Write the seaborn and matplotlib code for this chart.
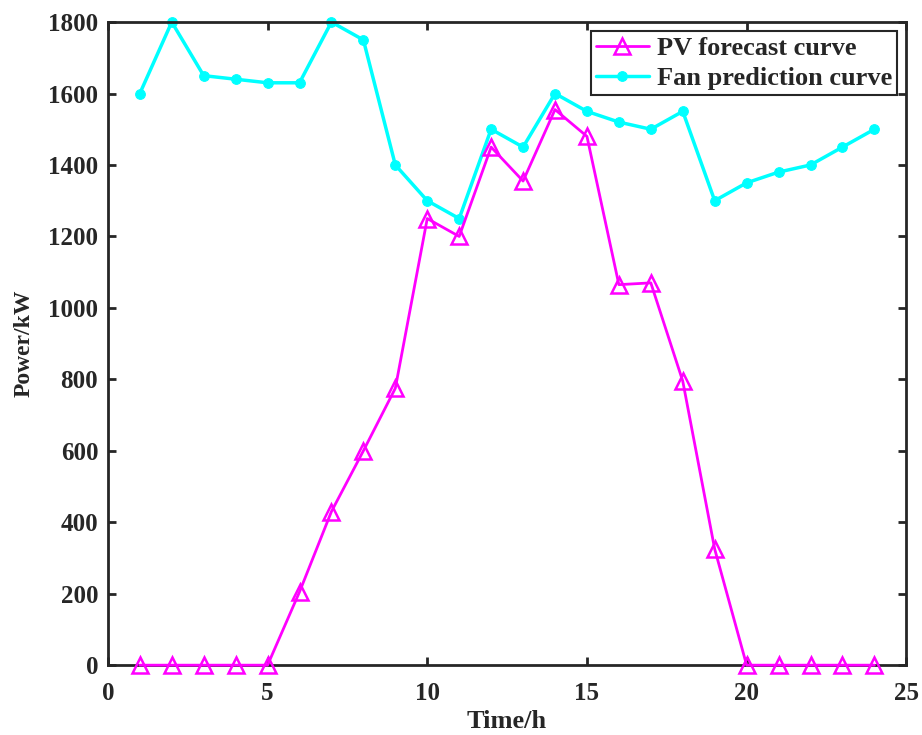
import matplotlib
matplotlib.use("Agg")
import matplotlib.pyplot as plt
import seaborn as sns
import pandas as pd

# hourly forecasts
hours = list(range(1, 25))
pv_forecast = [0, 0, 0, 0, 0, 205, 430, 600, 775, 1250, 1200, 1450,
               1355, 1555, 1480, 1065, 1070, 795, 325, 0, 0, 0, 0, 0]
fan_prediction = [1600, 1800, 1650, 1640, 1630, 1630, 1800, 1750, 1400, 1300, 1250, 1500,
                  1450, 1600, 1550, 1520, 1500, 1550, 1300, 1350, 1380, 1400, 1450, 1500]

sns.set_style("ticks")
plt.rcParams["font.family"] = ["Liberation Serif", "DejaVu Serif"]
plt.rcParams["font.weight"] = "bold"
plt.rcParams["xtick.direction"] = "in"
plt.rcParams["ytick.direction"] = "in"

df = pd.DataFrame({"hour": hours, "pv": pv_forecast, "fan": fan_prediction})

fig = plt.figure(figsize=(9.22, 7.35), dpi=100)
ax = fig.add_axes([0.117, 0.095, 0.866, 0.875])

sns.lineplot(data=df, x="hour", y="pv", ax=ax, color="#ff00ff", linewidth=2,
             marker="^", markersize=11, markerfacecolor="none",
             markeredgecolor="#ff00ff", markeredgewidth=1.8, label="PV forecast curve",
             clip_on=False, zorder=3)
sns.lineplot(data=df, x="hour", y="fan", ax=ax, color="#00ffff", linewidth=2.5,
             marker="o", markersize=7, markeredgecolor="#00ffff",
             label="Fan prediction curve", clip_on=False, zorder=2)

ax.set_xlim(0, 25)
ax.set_ylim(0, 1800)
ax.set_xticks([0, 5, 10, 15, 20, 25])
ax.set_yticks(range(0, 1801, 200))
ax.tick_params(axis="both", labelsize=18, width=2, length=6,
               top=True, right=True)
ax.tick_params(axis="x", pad=12)
ax.tick_params(axis="y", pad=7)
for lbl in ax.get_xticklabels() + ax.get_yticklabels():
    lbl.set_fontweight("bold")
for sp in ax.spines.values():
    sp.set_visible(True)
    sp.set_linewidth(2)
    sp.set_color("#262626")

ax.set_xlabel("Time/h", fontsize=19, fontweight="bold", labelpad=4)
ax.set_ylabel("Power/kW", fontsize=17, fontweight="bold", labelpad=10)

leg = ax.legend(loc="upper right", fontsize=19, frameon=True, fancybox=False,
                borderaxespad=0.35, handlelength=2.0, handletextpad=0.3,
                borderpad=0.2, labelspacing=0.25)
leg.get_frame().set_edgecolor("#262626")
leg.get_frame().set_linewidth(1.5)
leg.get_frame().set_alpha(1)
for t in leg.get_texts():
    t.set_fontweight("bold")

fig.savefig("out.png", dpi=100)
